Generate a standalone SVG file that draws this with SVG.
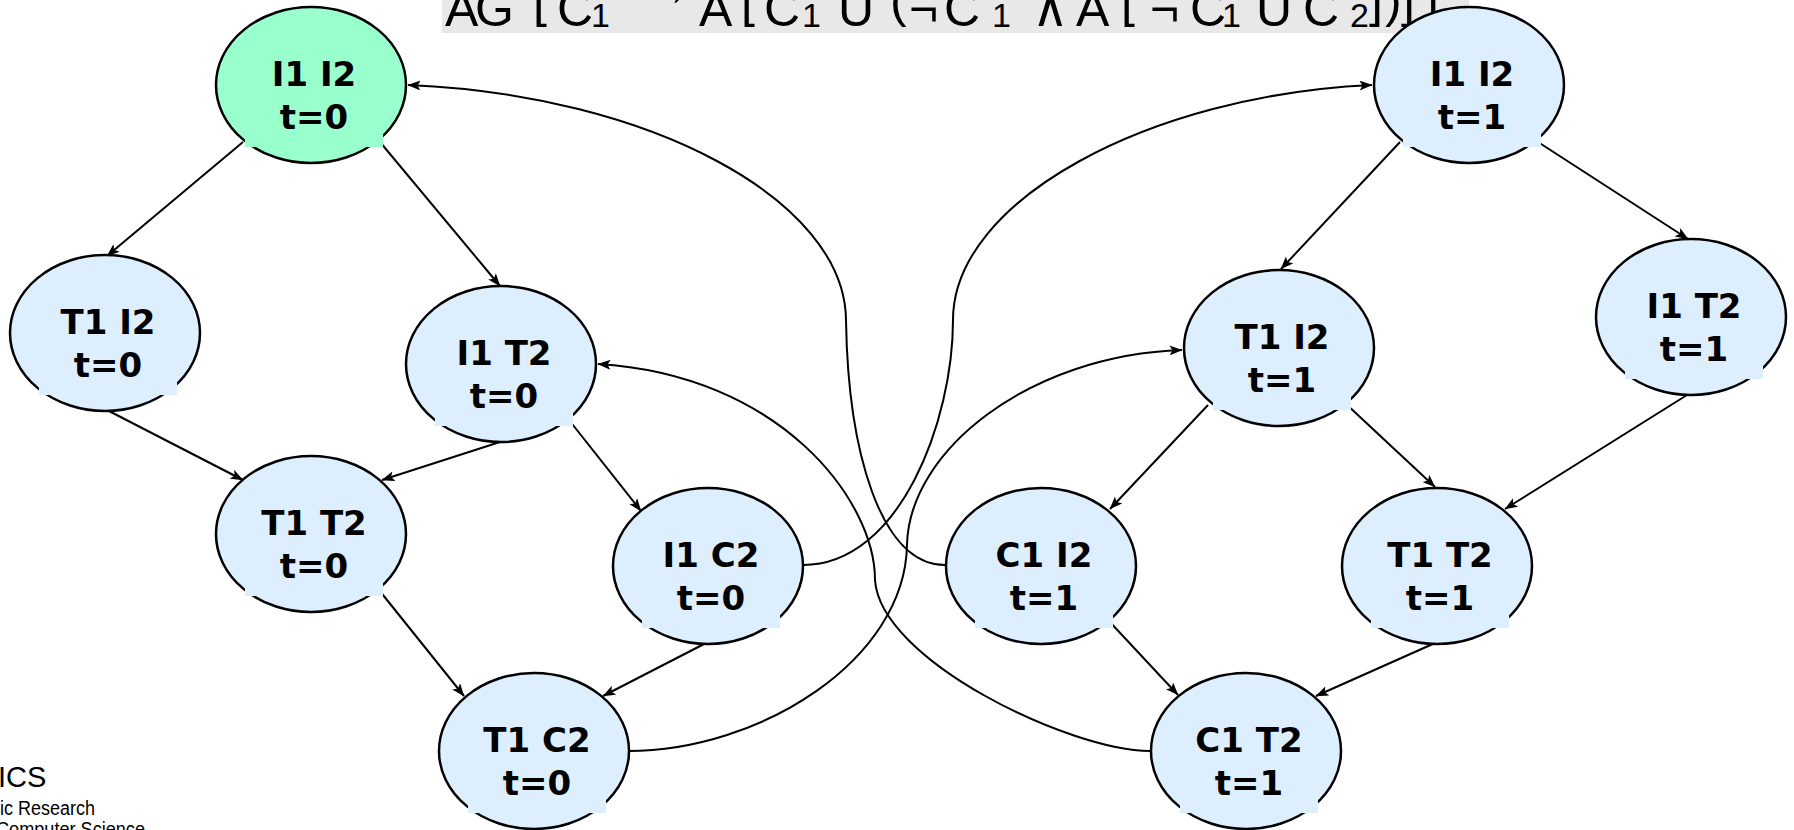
<svg xmlns="http://www.w3.org/2000/svg" width="1794" height="830" viewBox="0 0 1794 830">
<style>
.node ellipse{fill:#DDEEFF;stroke:#000;stroke-width:2.5}
.node rect{fill:#DDEEFF}
.start ellipse,.start rect{fill:#99FFCC}
.lbl{font-family:"DejaVu Sans",Verdana,sans-serif;font-weight:bold;font-size:34px;text-anchor:middle;fill:#000}
.edge{fill:none;stroke:#000;stroke-width:2;marker-end:url(#arr)}
.ttl{font-family:"Liberation Sans","DejaVu Sans",sans-serif;font-size:50px;fill:#000}
.sub{font-size:34px}
.logo{font-family:"Liberation Sans",Arial,sans-serif;fill:#000}
</style>
<defs>
<marker id="arr" markerUnits="userSpaceOnUse" viewBox="0 0 13 10" refX="12.5" refY="5" markerWidth="13" markerHeight="10" orient="auto">
<path d="M0,0 L13,5 L0,10 L3,5 z" fill="#000"/>
</marker>
</defs>
<rect x="0" y="0" width="1794" height="830" fill="#fff"/>

<g id="title">
<rect x="442" y="0" width="1027" height="33" fill="#E8E8E8"/>
<text class="ttl"><tspan x="445 475" y="26">AG</tspan><tspan x="533" y="16.5">[</tspan><tspan x="557" y="26">C</tspan><tspan class="sub" x="591" y="27">1</tspan> <tspan x="643" y="5">→</tspan> <tspan x="699" y="26">A</tspan><tspan x="741" y="16.5">[</tspan><tspan x="764" y="26">C</tspan><tspan class="sub" x="802" y="27">1</tspan> <tspan x="838" y="26">U</tspan> <tspan x="890" y="16.5">(</tspan><tspan x="909 944" y="26">¬C</tspan><tspan class="sub" x="992" y="27">1</tspan> <tspan x="1032" y="26">∧</tspan> <tspan x="1076" y="26">A</tspan><tspan x="1121" y="16.5">[</tspan><tspan x="1150 1190" y="26">¬C</tspan><tspan class="sub" x="1222" y="27">1</tspan> <tspan x="1256" y="26">U</tspan> <tspan x="1303" y="26">C</tspan><tspan class="sub" x="1350" y="27">2</tspan><tspan x="1369 1385 1401 1425" y="16.5">])]]</tspan></text>
</g>

<g id="logo">
<text class="logo" x="-2" y="787" font-size="29">ICS</text>
<text class="logo" x="0" y="815" font-size="20" textLength="95" lengthAdjust="spacingAndGlyphs">ic Research</text>
<text class="logo" x="-4" y="836" font-size="20" textLength="149" lengthAdjust="spacingAndGlyphs">Computer Science</text>
</g>

<g id="connectors">
<path class="edge" d="M243 142 L107 256"/>
<path class="edge" d="M380 142 L500 286"/>
<path class="edge" d="M107 410 L243 480"/>
<path class="edge" d="M500 442 L382 480"/>
<path class="edge" d="M569 420 L641 511"/>
<path class="edge" d="M379 590 L464 696"/>
<path class="edge" d="M706 643 L603 696"/>
<path class="edge" d="M1400 142 L1281 269"/>
<path class="edge" d="M1538 142 L1688 239"/>
<path class="edge" d="M1208 405 L1110 509"/>
<path class="edge" d="M1345 403 L1435 487"/>
<path class="edge" d="M1687 395 L1505 509"/>
<path class="edge" d="M1108 620 L1178 695"/>
<path class="edge" d="M1435 643 L1316 696"/>
<path class="edge" d="M803 565 C900 565 953 420 953 320 C953 200 1150 95 1372 85"/>
<path class="edge" d="M628 751 C760 751 905 660 907 545 C909 450 1030 355 1182 350"/>
<path class="edge" d="M945 565 C880 565 848 450 846 320 C845 200 650 95 408 85"/>
<path class="edge" d="M1150 751 C1070 751 880 660 875 580 C875 500 780 375 598 364"/>
</g>

<g id="n_I1I2_t0" class="node start">
<ellipse cx="311" cy="85" rx="95" ry="78"/>
<rect x="245" y="40" width="138" height="107"/>
<text class="lbl" x="314" y="85.5">I1 I2</text>
<text class="lbl" x="314" y="129">t=0</text>
</g>
<g id="n_T1I2_t0" class="node">
<ellipse cx="105" cy="333" rx="95" ry="78"/>
<rect x="39" y="288" width="138" height="107"/>
<text class="lbl" x="108" y="333.5">T1 I2</text>
<text class="lbl" x="108" y="377">t=0</text>
</g>
<g id="n_I1T2_t0" class="node">
<ellipse cx="501" cy="364" rx="95" ry="78"/>
<rect x="435" y="319" width="138" height="107"/>
<text class="lbl" x="504" y="364.5">I1 T2</text>
<text class="lbl" x="504" y="408">t=0</text>
</g>
<g id="n_T1T2_t0" class="node">
<ellipse cx="311" cy="534" rx="95" ry="78"/>
<rect x="245" y="489" width="138" height="107"/>
<text class="lbl" x="314" y="534.5">T1 T2</text>
<text class="lbl" x="314" y="578">t=0</text>
</g>
<g id="n_I1C2_t0" class="node">
<ellipse cx="708" cy="566" rx="95" ry="78"/>
<rect x="642" y="521" width="138" height="107"/>
<text class="lbl" x="711" y="566.5">I1 C2</text>
<text class="lbl" x="711" y="610">t=0</text>
</g>
<g id="n_T1C2_t0" class="node">
<ellipse cx="534" cy="751" rx="95" ry="78"/>
<rect x="468" y="706" width="138" height="107"/>
<text class="lbl" x="537" y="751.5">T1 C2</text>
<text class="lbl" x="537" y="795">t=0</text>
</g>
<g id="n_I1I2_t1" class="node">
<ellipse cx="1469" cy="85" rx="95" ry="78"/>
<rect x="1403" y="40" width="138" height="107"/>
<text class="lbl" x="1472" y="85.5">I1 I2</text>
<text class="lbl" x="1472" y="129">t=1</text>
</g>
<g id="n_T1I2_t1" class="node">
<ellipse cx="1279" cy="348" rx="95" ry="78"/>
<rect x="1213" y="303" width="138" height="107"/>
<text class="lbl" x="1282" y="348.5">T1 I2</text>
<text class="lbl" x="1282" y="392">t=1</text>
</g>
<g id="n_I1T2_t1" class="node">
<ellipse cx="1691" cy="317" rx="95" ry="78"/>
<rect x="1625" y="272" width="138" height="107"/>
<text class="lbl" x="1694" y="317.5">I1 T2</text>
<text class="lbl" x="1694" y="361">t=1</text>
</g>
<g id="n_C1I2_t1" class="node">
<ellipse cx="1041" cy="566" rx="95" ry="78"/>
<rect x="975" y="521" width="138" height="107"/>
<text class="lbl" x="1044" y="566.5">C1 I2</text>
<text class="lbl" x="1044" y="610">t=1</text>
</g>
<g id="n_T1T2_t1" class="node">
<ellipse cx="1437" cy="566" rx="95" ry="78"/>
<rect x="1371" y="521" width="138" height="107"/>
<text class="lbl" x="1440" y="566.5">T1 T2</text>
<text class="lbl" x="1440" y="610">t=1</text>
</g>
<g id="n_C1T2_t1" class="node">
<ellipse cx="1246" cy="751" rx="95" ry="78"/>
<rect x="1180" y="706" width="138" height="107"/>
<text class="lbl" x="1249" y="751.5">C1 T2</text>
<text class="lbl" x="1249" y="795">t=1</text>
</g>
</svg>
